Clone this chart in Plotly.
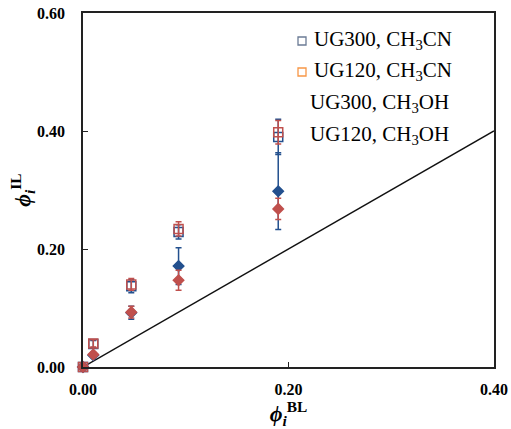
import plotly.graph_objects as go

# ---- data ----
phi_bl = [0.0, 0.010, 0.047, 0.093, 0.190]

ug300_ch3cn = [0.0, 0.039, 0.137, 0.229, 0.390]
ug300_ch3cn_err = [0.0, 0.006, 0.011, 0.012, 0.030]

ug120_ch3cn = [0.0, 0.040, 0.140, 0.234, 0.398]
ug120_ch3cn_err = [0.0, 0.006, 0.010, 0.012, 0.020]

ug300_ch3oh = [0.0, 0.020, 0.092, 0.171, 0.298]
ug300_ch3oh_err = [0.0, 0.004, 0.011, 0.031, 0.065]

ug120_ch3oh = [0.0, 0.021, 0.093, 0.147, 0.268]
ug120_ch3oh_err = [0.0, 0.004, 0.010, 0.017, 0.018]

parity_x = [0.0, 0.40]
parity_y = [0.0, 0.40]

legend_labels = [
    "UG300, CH<sub>3</sub>CN",
    "UG120, CH<sub>3</sub>CN",
    "UG300, CH<sub>3</sub>OH",
    "UG120, CH<sub>3</sub>OH",
]

x_ticks = [0.0, 0.2, 0.4]
y_ticks = [0.0, 0.2, 0.4, 0.6]

BLUE = "#23508E"
RED = "#C0504D"
FONT = "Liberation Serif"

fig = go.Figure()

fig.add_trace(go.Scatter(
    x=parity_x, y=parity_y, mode="lines",
    line=dict(color="#111111", width=1.5), showlegend=False, hoverinfo="skip"))


def add_series(y, err, symbol, color, size, name):
    fig.add_trace(go.Scatter(
        x=phi_bl, y=y, mode="markers", name=name, showlegend=False,
        marker=dict(symbol=symbol, color=color, size=size,
                    line=dict(color=color, width=1.5)),
        error_y=dict(type="data", array=err, visible=True,
                     color=color, thickness=1.5, width=3),
        cliponaxis=False))


add_series(ug300_ch3cn, ug300_ch3cn_err, "square-open", BLUE, 9, legend_labels[0])
add_series(ug120_ch3cn, ug120_ch3cn_err, "square-open", RED, 9, legend_labels[1])
add_series(ug300_ch3oh, ug300_ch3oh_err, "diamond", BLUE, 8, legend_labels[2])
add_series(ug120_ch3oh, ug120_ch3oh_err, "diamond", RED, 8, legend_labels[3])

FIG_W, FIG_H = 511, 429
# target plot-area edges in pixels
L, R, T, B = 83, 494, 13, 367
W, H = R - L, B - T


def px(x):
    return (x - L) / W


def py(y):
    return (B - y) / H


legend_rows = [(312, 40), (312, 71), (308, 103), (308, 135)]
for lab, (lx, ly) in zip(legend_labels, legend_rows):
    fig.add_annotation(x=px(lx), y=py(ly), xref="paper", yref="paper",
                       text=lab, showarrow=False, xanchor="left", yanchor="middle",
                       font=dict(family=FONT, size=21, color="black"))

sym_colors = ["#6B7B95", "#F79646"]
sym_rows = [41, 72]
for c, cy in zip(sym_colors, sym_rows):
    fig.add_shape(type="rect", xref="paper", yref="paper",
                  x0=px(298), x1=px(306), y0=py(cy + 4), y1=py(cy - 4),
                  line=dict(color=c, width=1.3), fillcolor="rgba(0,0,0,0)")

fig.update_layout(
    width=FIG_W, height=FIG_H,
    margin=dict(l=L, r=FIG_W - R, t=T, b=FIG_H - B),
    paper_bgcolor="white", plot_bgcolor="white",
    showlegend=False,
    font=dict(family=FONT, color="black"),
)

PHI = "\u03d5"

fig.update_xaxes(
    range=[0, 0.4], tickvals=x_ticks, tickformat=".2f",
    showgrid=False, zeroline=False, automargin=False,
    showline=True, linecolor="#222222", linewidth=1.5, mirror=True,
    ticks="inside", ticklen=5, tickcolor="#222222", tickwidth=1,
    tickfont=dict(family=FONT, size=16, color="black", weight="bold"),
    ticklabelstandoff=7, ticklabeloverflow="allow",
    title=dict(text=f"<b><i>{PHI}</i></b><sub><b><i>i</i></b></sub><sup><b>BL</b></sup>",
               font=dict(family=FONT, size=22, color="black"), standoff=4),
)
fig.update_yaxes(
    range=[0, 0.6], tickvals=y_ticks, tickformat=".2f",
    showgrid=False, zeroline=False, automargin=False,
    showline=True, linecolor="#222222", linewidth=1.5, mirror=True,
    ticks="inside", ticklen=5, tickcolor="#222222", tickwidth=1,
    tickfont=dict(family=FONT, size=16, color="black", weight="bold"),
    ticklabelstandoff=13, ticklabeloverflow="allow",
    title=dict(text=f"<b><i>{PHI}</i></b><sub><b><i>i</i></b></sub><sup><b>IL</b></sup>",
               font=dict(family=FONT, size=22, color="black"), standoff=0),
)

fig.write_html(
    "out.html",
    config={"displayModeBar": False},
    post_script="document.body.style.margin='0';document.body.style.overflow='hidden';",
)
